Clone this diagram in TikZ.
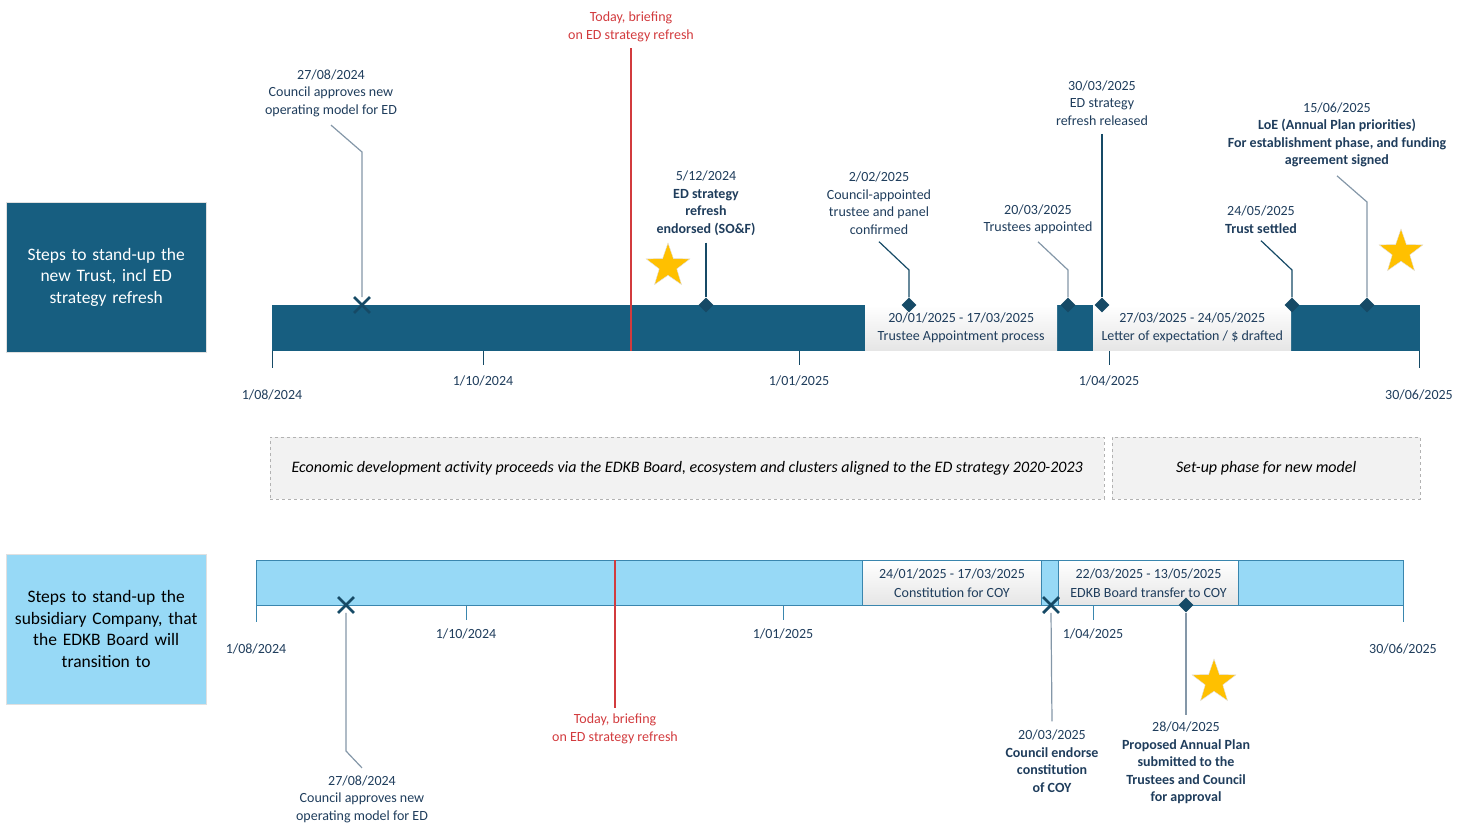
\documentclass[tikz,border=0pt]{standalone}
\usepackage{fontspec}
\setmainfont{Carlito}
\usepackage{xcolor}
\usepackage{tikz}
\usetikzlibrary{positioning,shapes.geometric,shapes.misc}
\definecolor{trustblue}{HTML}{175E80}
\definecolor{markblue}{HTML}{164A66}
\definecolor{coyblue}{HTML}{97D9F6}
\definecolor{coyedge}{HTML}{3A86AE}
\definecolor{labelblue}{HTML}{1F3D5C}
\definecolor{leadergray}{HTML}{8497A8}
\definecolor{todayred}{HTML}{D23B3E}
\definecolor{stargold}{HTML}{FFC000}
\tikzset{
  rowlabel/.style={anchor=north west,align=center,minimum width=200pt,minimum height=150pt,
    text width=194pt,inner xsep=3pt,draw=black!12,font=\fontsize{17.5}{21.5}\selectfont},
  trackbar/.style={anchor=north west,minimum height=46pt,inner sep=0pt},
  phasebox/.style={anchor=north west,top color=white,bottom color=black!10,inner sep=0pt,
    minimum height=45pt,align=center,text=labelblue,font=\fontsize{14}{18.5}\selectfont},
  milestone/.style={diamond,fill=markblue,inner sep=0pt,minimum size=15pt},
  stopmark/.style={cross out,draw=markblue,line width=2.8pt,inner sep=0pt,minimum size=13pt},
  eventlabel/.style={align=center,text=labelblue,font=\fontsize{14}{17.5}\selectfont},
  datelabel/.style={text=labelblue,font=\fontsize{14}{16}\selectfont},
  todaylabel/.style={align=center,text=todayred,font=\fontsize{14}{17.5}\selectfont},
  leader/.style={draw=leadergray,line width=1.2pt},
  leaderdark/.style={draw=markblue,line width=1.2pt},
  todayline/.style={draw=todayred,line width=1.2pt},
  goldstar/.style={star,star points=5,star point ratio=2.5,fill=stargold,draw=black!12,
    minimum size=46pt,inner sep=0pt},
  contextbox/.style={anchor=north west,draw=black!30,dashed,fill=black!5,minimum height=62pt,
    font=\fontsize{16}{18}\selectfont\itshape}
}
\begin{document}
\begin{tikzpicture}[x=1pt,y=-1pt]
  \useasboundingbox (0,0) rectangle (1470,823);
  % upper track: the new Trust
  \node[rowlabel,fill=trustblue,text=white] (trustrow) at (6,202) {Steps to stand-up the\\new Trust, incl ED\\strategy refresh};
  \node[trackbar,fill=trustblue,minimum width=1148pt] (trustbar) at (272,305) {};
  \node[phasebox,minimum width=192pt] (trusteeproc) at (865,305) {20/01/2025 - 17/03/2025\\Trustee Appointment process};
  \node[phasebox,minimum width=198pt] (loeproc) at (1093,305) {27/03/2025 - 24/05/2025\\Letter of expectation / \$ drafted};
  \foreach \x/\len in {272/17,483/14,799/14,1109/14,1419/17}
    \draw[markblue,line width=1pt] (\x,351) -- ++(0,\len);
  \node[datelabel] (tstart) at (272,395) {1/08/2024};
  \node[datelabel] (toct) at (483,381) {1/10/2024};
  \node[datelabel] (tjan) at (799,381) {1/01/2025};
  \node[datelabel] (tapr) at (1109,381) {1/04/2025};
  \node[datelabel] (tend) at (1419,395) {30/06/2025};
  % today marker
  \node[todaylabel] (todaytop) at (631,27) {Today, briefing\\on ED strategy refresh};
  \coordinate (todaytopend) at (631,351);
  \draw[todayline] ([yshift=-3pt]todaytop.south) -- (todaytopend);
  % events
  \node[eventlabel] (councilev) at (331,93) {27/08/2024\\Council approves new\\operating model for ED};
  \node[eventlabel] (endorseev) at (706,203) {5/12/2024\\\textbf{ED strategy}\\\textbf{refresh}\\\textbf{endorsed (SO\&F)}};
  \node[eventlabel] (trusteeev) at (879,203) {2/02/2025\\Council-appointed\\trustee and panel\\confirmed};
  \node[eventlabel] (appointev) at (1038,219.5) {20/03/2025\\Trustees appointed};
  \node[eventlabel] (releaseev) at (1102,103) {30/03/2025\\ED strategy\\refresh released};
  \node[eventlabel] (settledev) at (1261,219.5) {24/05/2025\\\textbf{Trust settled}};
  \node[eventlabel] (loeev) at (1337,135) {15/06/2025\\\textbf{LoE (Annual Plan priorities)}\\\textbf{For establishment phase, and funding}\\\textbf{agreement signed}};
  \coordinate (councilbend) at (362,152);
  \coordinate (trusteebend) at (909,270);
  \coordinate (appointbend) at (1068,270);
  \coordinate (settledbend) at (1292,270);
  \coordinate (loebend) at (1367,202);
  \node[stopmark] (councilmark) at (362,305) {};
  \node[milestone] (endorsemark) at (706,305) {};
  \node[milestone] (trusteemark) at (909,305) {};
  \node[milestone] (appointmark) at (1068,305) {};
  \node[milestone] (releasemark) at (1102,305) {};
  \node[milestone] (settledmark) at (1292,305) {};
  \node[milestone] (loemark) at (1367,305) {};
  \draw[leader] ([yshift=-5pt]councilev.south) -- (councilbend) -- (councilmark.north);
  \draw[leaderdark] ([yshift=-4pt]endorseev.south) -- (endorsemark.north);
  \draw[leaderdark] ([yshift=-4pt]trusteeev.south) -- (trusteebend) -- (trusteemark.north);
  \draw[leader] ([yshift=-4pt]appointev.south) -- (appointbend) -- (appointmark.north);
  \draw[leaderdark] ([yshift=-5pt]releaseev.south) -- (releasemark.north);
  \draw[leaderdark] ([yshift=-4pt]settledev.south) -- (settledbend) -- (settledmark.north);
  \draw[leader] ([yshift=-5pt]loeev.south) -- (loebend) -- (loemark.north);
  \node[goldstar] (endorsestar) at (668,266) {};
  \node[goldstar] (loestar) at (1401,252) {};
  % context boxes
  \node[contextbox,minimum width=834pt] (edkbctx) at (270,437) {Economic development activity proceeds via the EDKB Board, ecosystem and clusters aligned to the ED strategy 2020-2023};
  \node[contextbox,minimum width=308pt] (setupctx) at (1112,437) {Set-up phase for new model};
  % lower track: the subsidiary Company
  \node[rowlabel,fill=coyblue,text=black] (coyrow) at (6,554) {Steps to stand-up the\\subsidiary Company, that\\the EDKB Board will\\transition to};
  \node[trackbar,fill=coyblue,draw=coyedge,line width=1pt,minimum width=1147pt,minimum height=45pt] (coybar) at (256,560) {};
  \node[phasebox,minimum width=179pt,draw=coyedge,line width=1pt] (constproc) at (862,560) {24/01/2025 - 17/03/2025\\Constitution for COY};
  \node[phasebox,minimum width=180pt,draw=coyedge,line width=1pt] (transferproc) at (1058,560) {22/03/2025 - 13/05/2025\\EDKB Board transfer to COY};
  \foreach \x/\len in {256/17,466/15,783/15,1093/15,1403/17}
    \draw[coyedge,line width=1pt] (\x,605) -- ++(0,\len);
  \node[datelabel] (bstart) at (256,649) {1/08/2024};
  \node[datelabel] (boct) at (466,634) {1/10/2024};
  \node[datelabel] (bjan) at (783,634) {1/01/2025};
  \node[datelabel] (bapr) at (1093,634) {1/04/2025};
  \node[datelabel] (bend) at (1403,649) {30/06/2025};
  \node[todaylabel] (todaybot) at (615,729) {Today, briefing\\on ED strategy refresh};
  \coordinate (todaybotend) at (615,560);
  \draw[todayline] (todaybotend) -- ([yshift=3pt]todaybot.north);
  \node[eventlabel] (councilbot) at (362,799) {27/08/2024\\Council approves new\\operating model for ED};
  \node[eventlabel] (constev) at (1052,761) {20/03/2025\\\textbf{Council endorse}\\\textbf{constitution}\\\textbf{of COY}};
  \node[eventlabel] (planev) at (1186,763) {28/04/2025\\\textbf{Proposed Annual Plan}\\\textbf{submitted to the}\\\textbf{Trustees and Council}\\\textbf{for approval}};
  \coordinate (councilbotbend) at (346,751);
  \node[stopmark] (councilbotmark) at (346,605) {};
  \node[stopmark] (constmark) at (1051,605) {};
  \node[milestone] (planmark) at (1186,605) {};
  \draw[leader] (councilbotmark.south) -- (councilbotbend) -- ([yshift=4pt]councilbot.north);
  \draw[leader] (constmark.south) -- ([yshift=5pt]constev.north);
  \draw[leader] (planmark.south) -- ([yshift=4pt]planev.north);
  \node[goldstar] (planstar) at (1214,682) {};
\end{tikzpicture}
\end{document}
